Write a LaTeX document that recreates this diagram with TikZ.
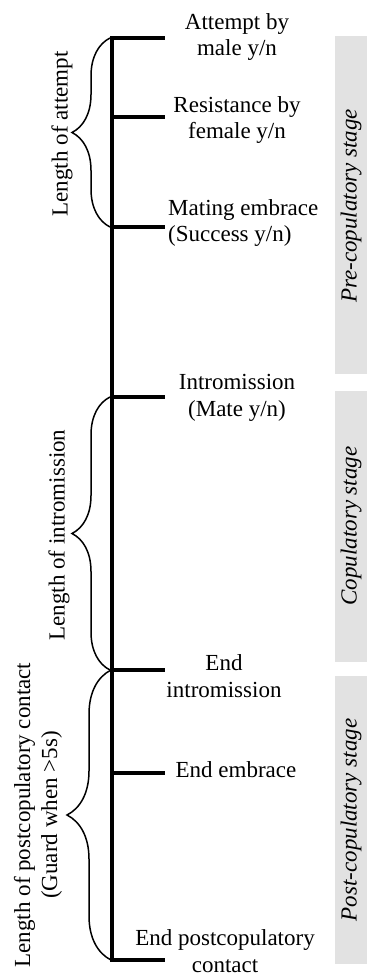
\documentclass[tikz,border=0pt]{standalone}
\usepackage{fontspec}
\setmainfont{Liberation Serif}
\usetikzlibrary{decorations.pathreplacing}
\definecolor{stagegray}{RGB}{226,226,226}
\begin{document}
\begin{tikzpicture}[x=1pt,y=-1pt,
  lbl/.style={align=center,font=\fontsize{23}{26.5}\selectfont,inner sep=0pt},
  stagetxt/.style={font=\fontsize{23}{26.5}\selectfont\itshape,rotate=90,inner sep=0pt},
  bracelbl/.style={align=center,font=\fontsize{23}{27}\selectfont,rotate=90,inner sep=0pt},
  axis/.style={line width=3.4pt},
  bracepath/.style={line width=1.5pt,decorate,decoration={brace,amplitude=#1}},
  stagebox/.style={fill=stagegray,draw=none}]
\useasboundingbox (0,0) rectangle (367,979);

% stage boxes
\fill[stagebox] (335,36) rectangle (367,374);
\fill[stagebox] (335,391) rectangle (367,662);
\fill[stagebox] (335,676) rectangle (367,964);
\node[stagetxt] (s1) at (351,206) {Pre-copulatory stage};
\node[stagetxt] (s2) at (351,526) {Copulatory stage};
\node[stagetxt] (s3) at (351,820) {Post-copulatory stage};

% axis points
\coordinate (a1) at (112,38);
\coordinate (a2) at (112,117);
\coordinate (a3) at (112,227);
\coordinate (a4) at (112,397);
\coordinate (a5) at (112,670);
\coordinate (a6) at (112,773);
\coordinate (a7) at (112,960);
\coordinate (k1) at (165,38);
\coordinate (k2) at (165,117);
\coordinate (k3) at (165,227);
\coordinate (k4) at (165,397);
\coordinate (k5) at (165,670);
\coordinate (k6) at (165,773);
\coordinate (k7) at (165,960);

\draw[axis] ([yshift=1.7pt]a1) -- ([yshift=-1.7pt]a7);
\foreach \i in {1,...,7} \draw[axis] (a\i) -- (k\i);

% labels
\node[lbl] (l1) at (237,37) {Attempt by\\male y/n};
\node[lbl] (l2) at (237,120) {Resistance by\\female y/n};
\node[lbl,align=left,anchor=west] (l3) at (168,223) {Mating embrace\\(Success y/n)};
\node[lbl] (l4) at (237,398) {Intromission\\(Mate y/n)};
\node[lbl] (l5) at (224,676) {End\\intromission};
\node[lbl] (l6) at (236,770) {End embrace};
\node[lbl] (l7) at (225,951) {End postcopulatory\\contact};

% braces
\coordinate (b1s) at (110,227);
\coordinate (b1e) at (110,38);
\coordinate (b2s) at (110,670);
\coordinate (b2e) at (110,397);
\coordinate (b3s) at (111,960);
\coordinate (b3e) at (111,670);
\draw[bracepath=38pt] (b1s) -- (b1e);
\draw[bracepath=38pt] (b2s) -- (b2e);
\draw[bracepath=44pt] (b3s) -- (b3e);

\node[bracelbl] (g1) at (62,134) {Length of attempt};
\node[bracelbl] (g2) at (59,535) {Length of intromission};
\node[bracelbl] (g3) at (38,815) {Length of postcopulatory contact\\(Guard when >5s)};
\end{tikzpicture}
\end{document}
